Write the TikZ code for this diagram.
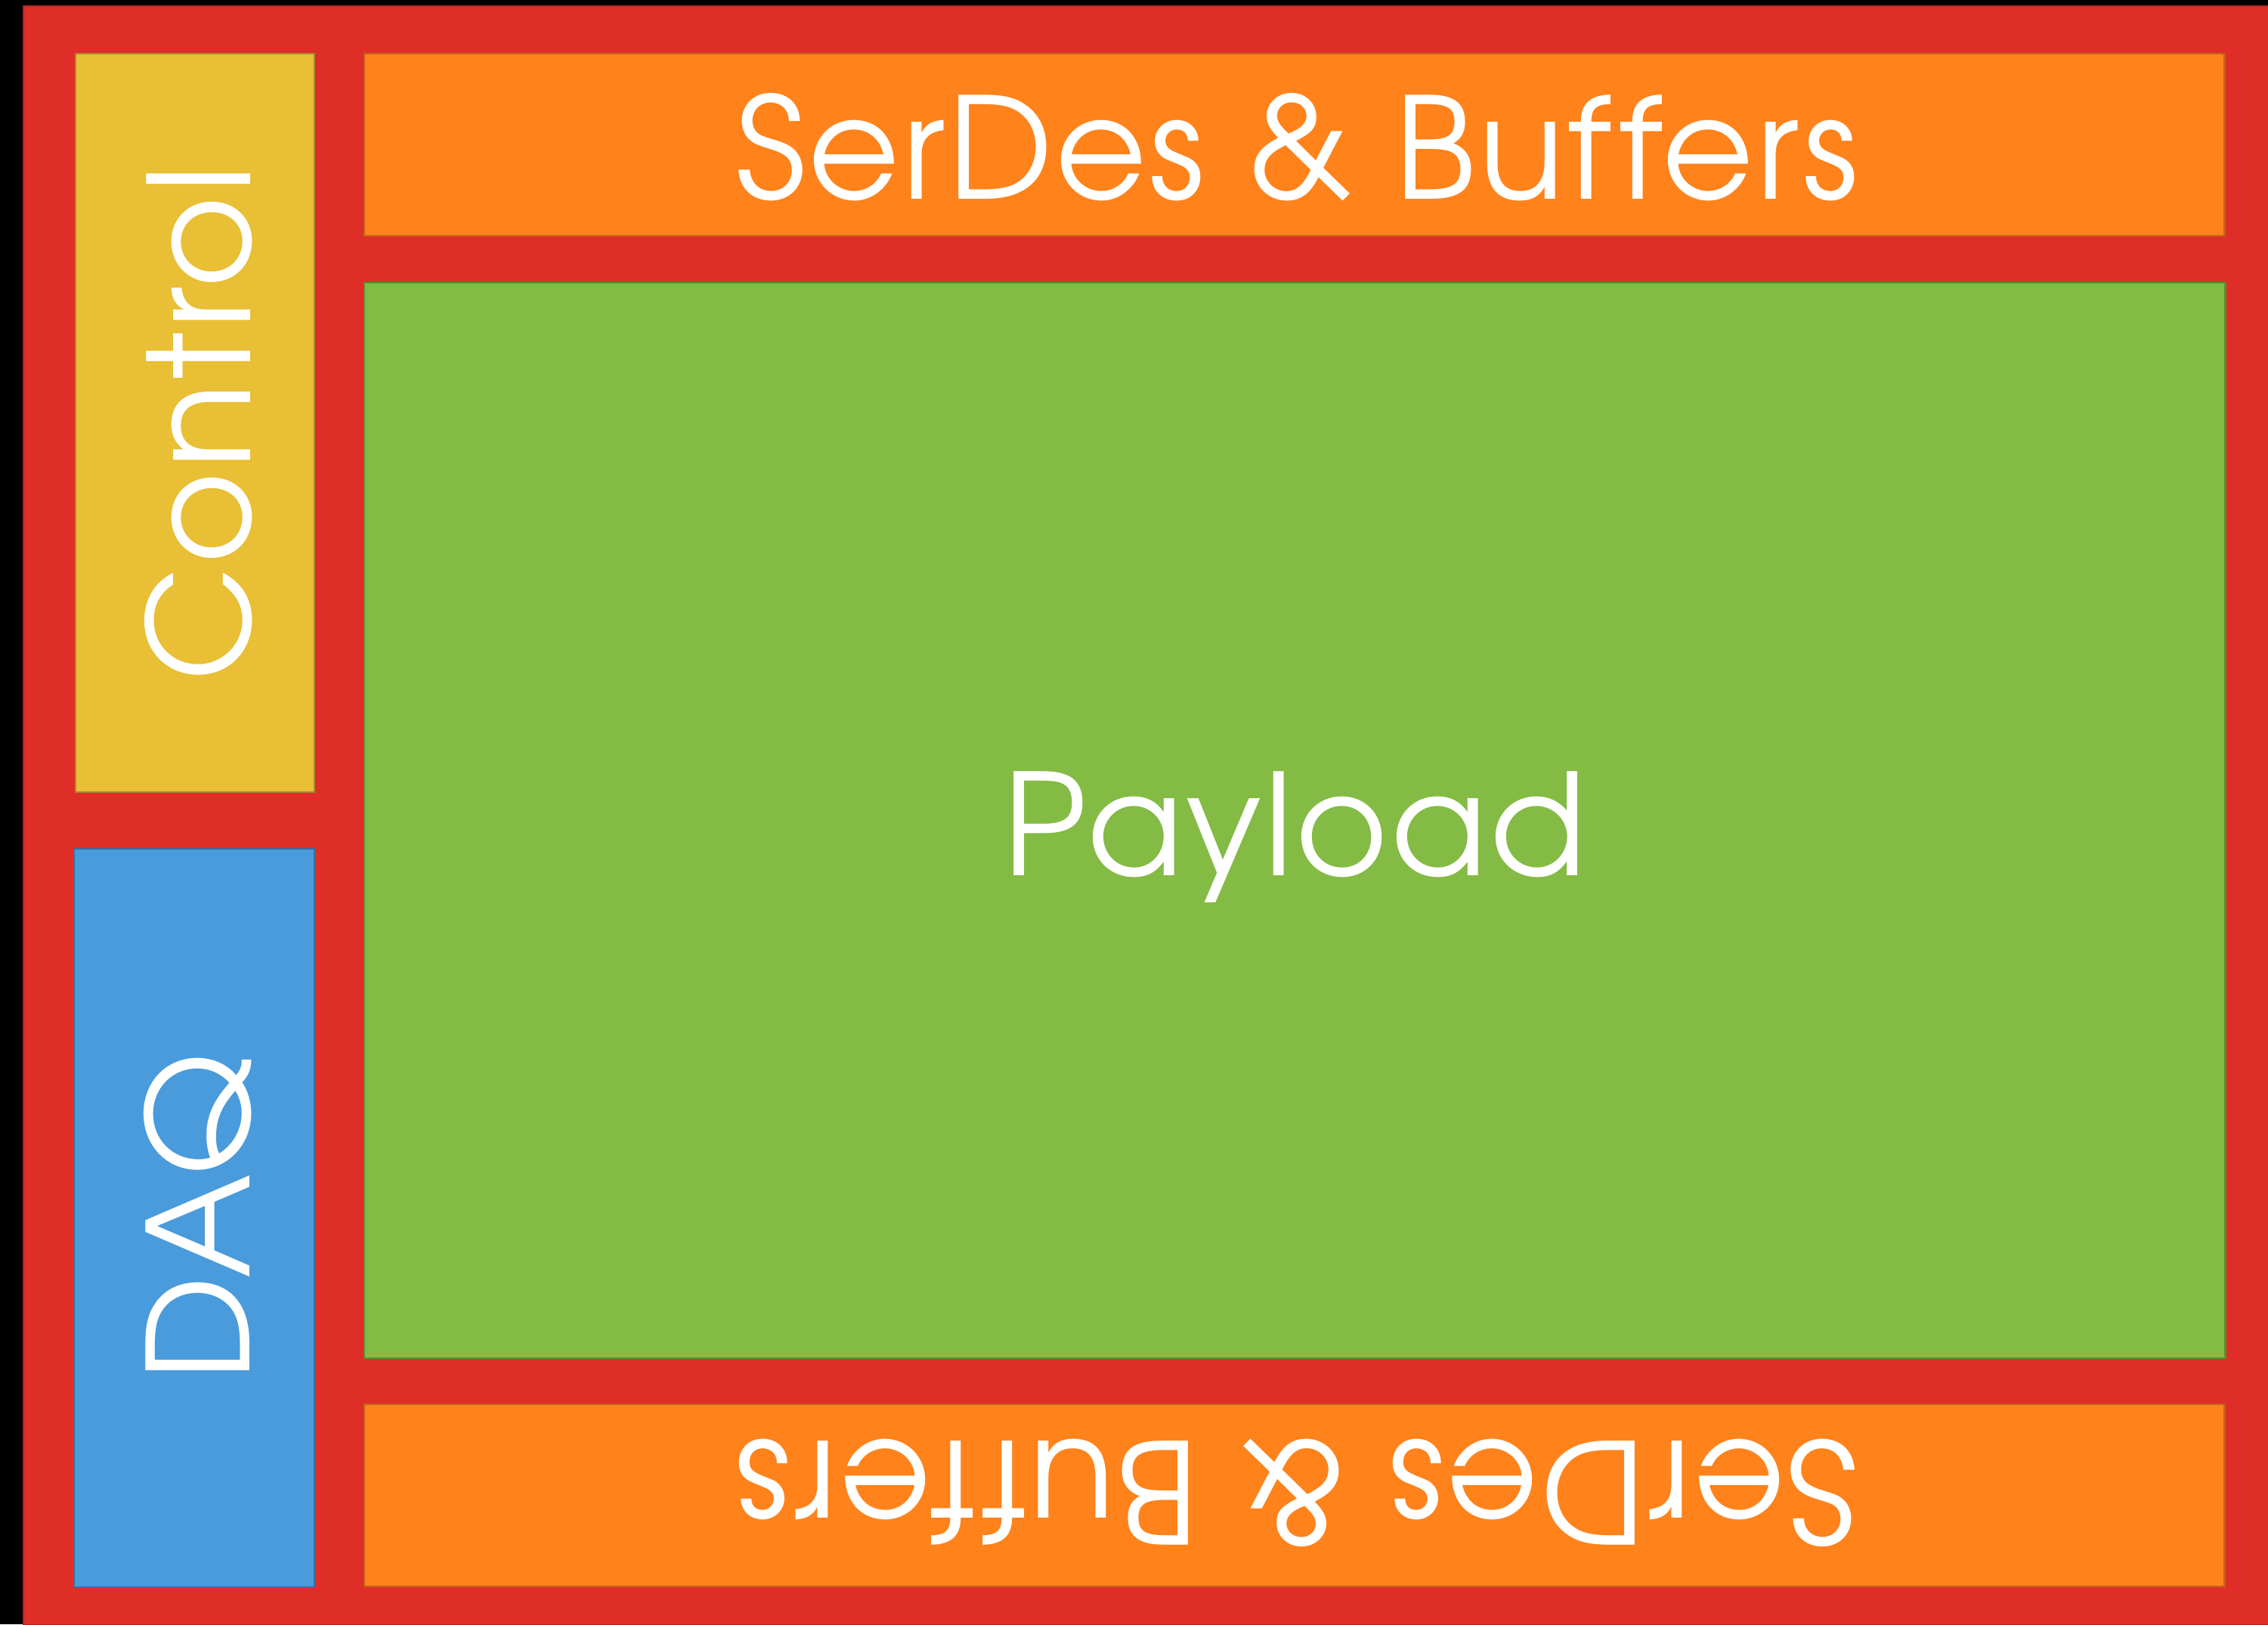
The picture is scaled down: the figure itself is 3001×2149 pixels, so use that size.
\documentclass[tikz,border=0pt]{standalone}
\usepackage{fontspec}
\setmainfont{TeX Gyre Adventor}[LetterSpace=2.0, Ligatures=NoCommon]
\definecolor{bgred}{HTML}{DF2E27}
\definecolor{bgredline}{HTML}{A82520}
\definecolor{ctlfill}{HTML}{E8BF35}
\definecolor{ctlline}{HTML}{A88A2C}
\definecolor{daqfill}{HTML}{4A9BDB}
\definecolor{daqline}{HTML}{3A6E9E}
\definecolor{sdfill}{HTML}{FF821B}
\definecolor{sdline}{HTML}{C2621A}
\definecolor{plfill}{HTML}{83BB44}
\definecolor{plline}{HTML}{5E8E2E}
\tikzset{
  blockbox/.style={rectangle, draw, line width=0.6pt, inner sep=0pt, outer sep=0pt, anchor=north west},
  lbl/.style={text=white, inner sep=0pt, anchor=base, font=\fontsize{53}{58}\selectfont}
}
\begin{document}
\begin{tikzpicture}[x=0.01cm, y=-0.01cm]
\useasboundingbox (0,0) rectangle (3001,2149);
\fill[black] (0,0) rectangle (3001,2149);
\node[blockbox, fill=bgred, draw=bgredline, minimum width=29.70cm, minimum height=21.41cm] (frame) at (31,8) {};
\node[blockbox, fill=ctlfill, draw=ctlline, minimum width=3.16cm, minimum height=9.76cm] (control) at (100,71) {};
\node[blockbox, fill=daqfill, draw=daqline, minimum width=3.18cm, minimum height=9.76cm] (daq) at (98,1123) {};
\node[blockbox, fill=sdfill, draw=sdline, minimum width=24.60cm, minimum height=2.41cm] (sdtop) at (482,71) {};
\node[blockbox, fill=plfill, draw=plline, minimum width=24.61cm, minimum height=14.22cm] (payload) at (482,374) {};
\node[blockbox, fill=sdfill, draw=sdline, minimum width=24.60cm, minimum height=2.41cm] (sdbot) at (482,1858) {};
\node[lbl] (tsdtop) at (1716,264) {SerDes \& Buffers};
\node[lbl] (tpayload) at (1713,1158) {Payload};
\node[lbl, rotate=180] (tsdbot) at (1716,1906) {SerDes \& Buffers};
\node[lbl, rotate=90] (tcontrol) at (331,560) {Control};
\node[lbl, rotate=90] (tdaq) at (330,1611) {DAQ};
\end{tikzpicture}
\end{document}
